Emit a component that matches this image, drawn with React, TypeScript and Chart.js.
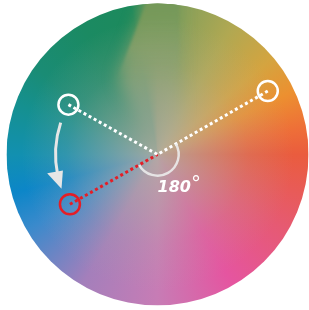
import React, { useEffect, useRef } from "react";
import { Chart, registerables } from "chart.js";

Chart.register(...registerables);

// Points on the colour wheel (unit-circle coordinates, wheel centre at 0,0)
const pointNames = ["start", "complement", "rotated"];
const pointX = [-0.59, 0.73, -0.58];
const pointY = [0.33, 0.42, -0.33];
const centreX = [0];
const centreY = [0];
const angleLabel = ["180", "°"];

// Hue ring colours (screen angle in degrees clockwise from east)
const hueAngles = [0, 30, 60, 90, 120, 150, 165, 180, 200, 215, 240, 260, 270, 280, 300, 320, 335, 350, 360];
const hueColors = [
  "#ea5c3e", "#e65a72", "#e555a0", "#c77cb5", "#a47fbb", "#3a8acc", "#0c86c8", "#1290b0",
  "#15908f", "#1a8c75", "#1b8a62", "#1d8a5c", "#72985a", "#88a05a", "#b0a852", "#d4a440",
  "#ec9030", "#ee6e38", "#ea5c3e",
];

// olive shading that cuts into the green sector (unit coords)
const oliveX = [-0.045, -0.262, -0.03, 0.14, 0.14];
const oliveY = [1.08, 0.513, 0.0, 0.0, 1.08];
const edgeX = [-0.045, -0.262, 0.14, 0.14];
const edgeY = [1.08, 0.513, 0.513, 1.08];

const wheelPlugin = {
  id: "wheel",
  beforeDatasetsDraw(chart: any) {
    const { ctx, scales } = chart;
    const px = (v: number) => scales.x.getPixelForValue(v);
    const py = (v: number) => scales.y.getPixelForValue(v);
    const cx = px(0);
    const cy = py(0);
    const R = px(1) - cx;
    const poly = (xs: number[], ys: number[]) => {
      ctx.beginPath();
      xs.forEach((x, i) => (i ? ctx.lineTo(px(x), py(ys[i])) : ctx.moveTo(px(x), py(ys[i]))));
      ctx.closePath();
    };
    ctx.save();
    ctx.beginPath();
    ctx.arc(cx, cy, R, 0, Math.PI * 2);
    ctx.clip();
    const g = ctx.createConicGradient(0, cx, cy);
    hueAngles.forEach((a, i) => g.addColorStop(a / 360, hueColors[i]));
    ctx.fillStyle = g;
    ctx.fillRect(cx - R, cy - R, 2 * R, 2 * R);
    // olive intrusion: soft body
    ctx.save();
    ctx.filter = "blur(8px)";
    const lg = ctx.createLinearGradient(0, py(1), 0, cy);
    lg.addColorStop(0, "rgba(116,152,88,1)");
    lg.addColorStop(0.5, "rgba(136,160,106,0.8)");
    lg.addColorStop(0.85, "rgba(160,168,140,0.2)");
    lg.addColorStop(1, "rgba(170,172,150,0)");
    ctx.fillStyle = lg;
    poly(oliveX, oliveY);
    ctx.fill();
    ctx.restore();
    // olive intrusion: crisp upper edge
    ctx.save();
    ctx.filter = "blur(1.5px)";
    const lg2 = ctx.createLinearGradient(0, py(1), 0, py(0.513));
    lg2.addColorStop(0, "rgba(116,152,88,1)");
    lg2.addColorStop(0.6, "rgba(128,157,98,0.85)");
    lg2.addColorStop(1, "rgba(136,160,106,0)");
    ctx.fillStyle = lg2;
    poly(edgeX, edgeY);
    ctx.fill();
    ctx.restore();
    const rg = ctx.createRadialGradient(cx, cy, 0, cx, cy, R);
    rg.addColorStop(0, "rgba(178,172,162,0.9)");
    rg.addColorStop(0.3, "rgba(178,172,162,0.55)");
    rg.addColorStop(0.6, "rgba(178,172,162,0.2)");
    rg.addColorStop(0.9, "rgba(178,172,162,0)");
    ctx.fillStyle = rg;
    ctx.fillRect(cx - R, cy - R, 2 * R, 2 * R);
    ctx.restore();
  },
  afterDatasetsDraw(chart: any) {
    const { ctx, scales } = chart;
    const px = (v: number) => scales.x.getPixelForValue(v);
    const py = (v: number) => scales.y.getPixelForValue(v);
    const cx = px(centreX[0]);
    const cy = py(centreY[0]);
    const unit = px(1) - px(0);
    const ang = (i: number) => Math.atan2(py(pointY[i]) - cy, px(pointX[i]) - cx);
    const aA = ang(0), aB = ang(1), aC = ang(2);
    const d = Math.PI / 180;
    // 180 degree arc
    ctx.save();
    ctx.strokeStyle = "rgba(235,235,235,0.9)";
    ctx.lineWidth = 2.5;
    ctx.beginPath();
    ctx.arc(cx, cy, unit * 0.14, aB, aB + Math.PI, false);
    ctx.stroke();
    // rotation arrow (from start point towards rotated point)
    const rA = unit * 0.675;
    ctx.strokeStyle = "#e6e6e6";
    ctx.fillStyle = "#e6e6e6";
    ctx.lineWidth = 3;
    ctx.beginPath();
    ctx.arc(cx, cy, rA, aA - 11 * d, aC + 18 * d, true);
    ctx.stroke();
    const tip = aC + 10 * d;
    const base = aC + 20 * d;
    ctx.beginPath();
    ctx.moveTo(cx + Math.cos(tip) * rA, cy + Math.sin(tip) * rA);
    ctx.lineTo(cx + Math.cos(base) * (rA + 10), cy + Math.sin(base) * (rA + 10));
    ctx.lineTo(cx + Math.cos(base) * (rA - 6), cy + Math.sin(base) * (rA - 6));
    ctx.closePath();
    ctx.fill();
    // label
    ctx.fillStyle = "#ffffff";
    ctx.textBaseline = "alphabetic";
    ctx.font = 'italic bold 16px "DejaVu Sans"';
    ctx.fillText(angleLabel[0], cx, cy + 38);
    const w = ctx.measureText(angleLabel[0]).width;
    ctx.font = 'italic 20px "DejaVu Sans"';
    ctx.fillText(angleLabel[1], cx + w, cy + 36);
    ctx.restore();
  },
};

export default function App() {
  const ref = useRef<HTMLCanvasElement>(null);
  useEffect(() => {
    if (!ref.current) return;
    const dotted = (i: number, color: string) => ({
      label: pointNames[i] + "-line",
      type: "line" as const,
      data: [
        { x: pointX[i], y: pointY[i] },
        { x: centreX[0], y: centreY[0] },
      ],
      borderColor: color,
      borderWidth: 3,
      borderDash: [3, 2.8],
      borderCapStyle: "butt",
      pointRadius: 0,
      fill: false,
    });
    const chart = new Chart(ref.current, {
      type: "scatter",
      data: {
        datasets: [
          dotted(0, "#ffffff"),
          dotted(1, "#ffffff"),
          dotted(2, "#e41e26"),
          {
            label: "points",
            data: pointX.map((x, i) => ({ x, y: pointY[i] })),
            pointRadius: 10,
            pointBorderWidth: 2.5,
            pointBackgroundColor: "rgba(0,0,0,0)",
            pointBorderColor: ["#ffffff", "#ffffff", "#e41e26"],
          } as any,
        ],
      },
      options: {
        animation: false,
        responsive: false,
        events: [],
        layout: { padding: 0, autoPadding: false },
        plugins: { legend: { display: false }, tooltip: { enabled: false } },
        scales: {
          x: { type: "linear", min: -1.043, max: 1.003, display: false },
          y: { type: "linear", min: -1.03, max: 1.023, display: false },
        },
        datasets: { line: { clip: false }, scatter: { clip: false } } as any,
      } as any,
      plugins: [wheelPlugin],
    });
    return () => chart.destroy();
  }, []);
  return (
    <div style={{ position: "fixed", left: 0, top: 0, width: 309, height: 310, background: "#fff" }}>
      <canvas ref={ref} width={309} height={310} />
    </div>
  );
}
